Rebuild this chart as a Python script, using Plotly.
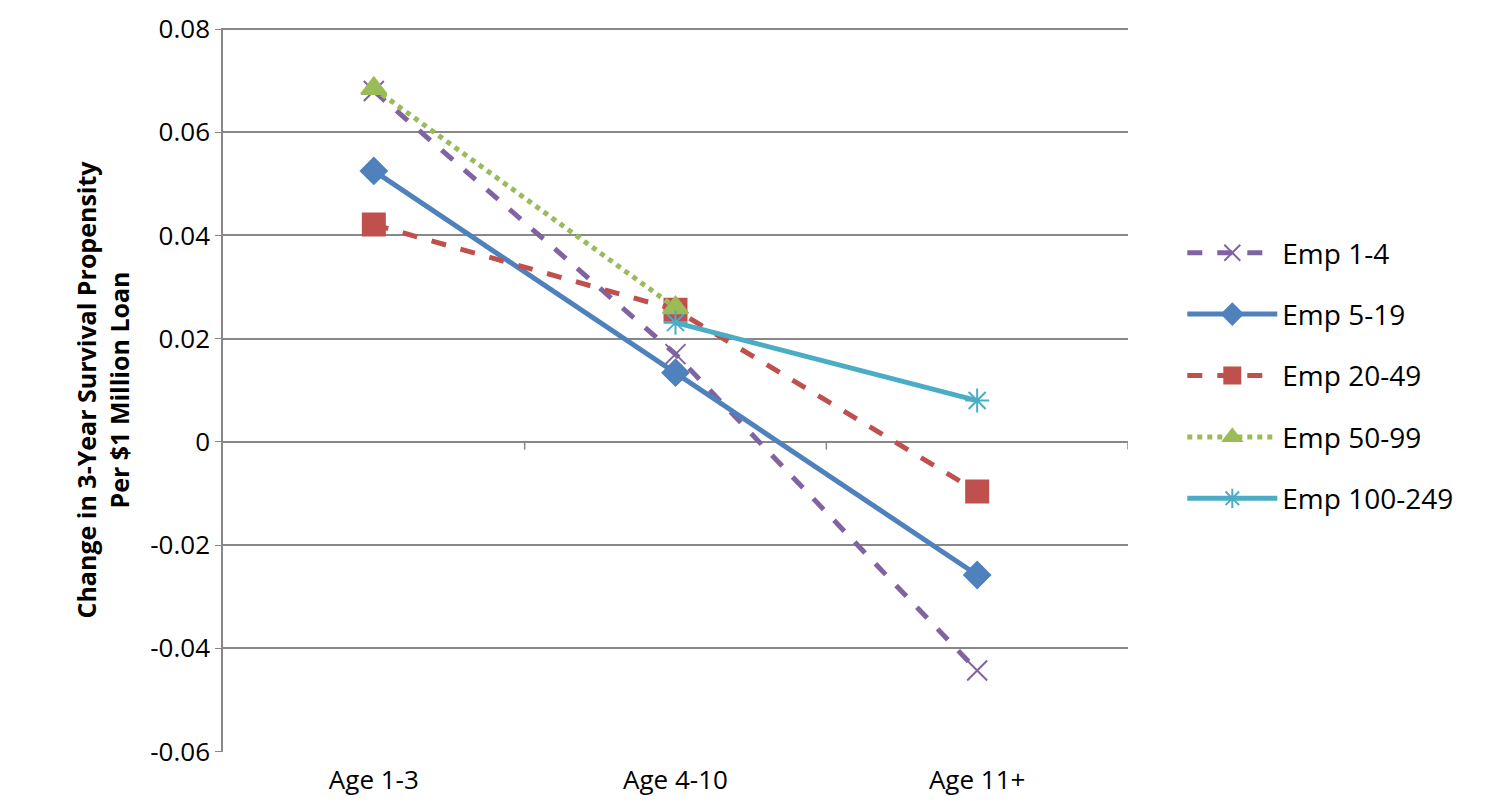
import plotly.graph_objects as go

ages = ["Age 1-3", "Age 4-10", "Age 11+"]
emp_1_4 = [0.068, 0.017, -0.0443]
emp_5_19 = [0.0525, 0.0134, -0.0258]
emp_20_49 = [0.0421, 0.0256, -0.0096]
emp_50_99 = [0.0685, 0.026, None]
emp_100_249 = [None, 0.0231, 0.008]
y_ticks = [-0.06, -0.04, -0.02, 0, 0.02, 0.04, 0.06, 0.08]
y_labels = ["-0.06", "-0.04", "-0.02", "0", "0.02", "0.04", "0.06", "0.08"]

series = [
    ("Emp 1-4", emp_1_4, "#8064A2", "dash", "x-thin", 20),
    ("Emp 5-19", emp_5_19, "#4F81BD", "solid", "diamond", 20),
    ("Emp 20-49", emp_20_49, "#C0504D", "dash", "square", 22),
    ("Emp 50-99", emp_50_99, "#9BBB59", "dot", "triangle-up", 22),
    ("Emp 100-249", emp_100_249, "#4BACC6", "solid", "asterisk", 20),
]

fig = go.Figure()
for name, vals, col, dash, sym, size in series:
    fig.add_trace(go.Scatter(
        x=ages, y=vals, name=name, legendgroup=name, mode="lines+markers",
        line=dict(color=col, width=5, dash=dash),
        marker=dict(symbol=sym, size=size, color=col,
                    line=dict(color=col, width=2)),
        connectgaps=False))

# small tick marks on the zero line between categories
for xb in [0.5, 1.5, 2.5]:
    fig.add_shape(type="line", xref="x", yref="y", x0=xb, x1=xb,
                  y0=0, y1=-0.0015, line=dict(color="#888888", width=1.5))

fig.update_layout(
    width=1492, height=806,
    margin=dict(l=215, r=372, t=20, b=62, autoexpand=False),
    plot_bgcolor="white", paper_bgcolor="white",
    font=dict(family="Open Sans, sans-serif", size=26, color="black"),
    showlegend=True,
    legend=dict(x=1.06, y=0.52, yanchor="middle", xanchor="left",
                font=dict(size=28), tracegroupgap=22, itemwidth=90),
    xaxis=dict(range=[-0.5, 2.5], showgrid=False, showline=False,
               ticks="", ticklabelstandoff=10, automargin=False),
    yaxis=dict(range=[-0.0601, 0.0802], tickvals=y_ticks, ticktext=y_labels,
               showgrid=True, gridcolor="#888888", gridwidth=1.5,
               zeroline=True, zerolinecolor="#888888", zerolinewidth=1.5,
               showline=True, linecolor="#888888", linewidth=1.5,
               ticks="outside", ticklen=6, tickcolor="#888888", automargin=False,
               title=dict(text="<b>Change in 3-Year Survival Propensity<br>Per $1 Million Loan</b>",
                          font=dict(size=25), standoff=14)),
)

fig.write_html("out.html")
